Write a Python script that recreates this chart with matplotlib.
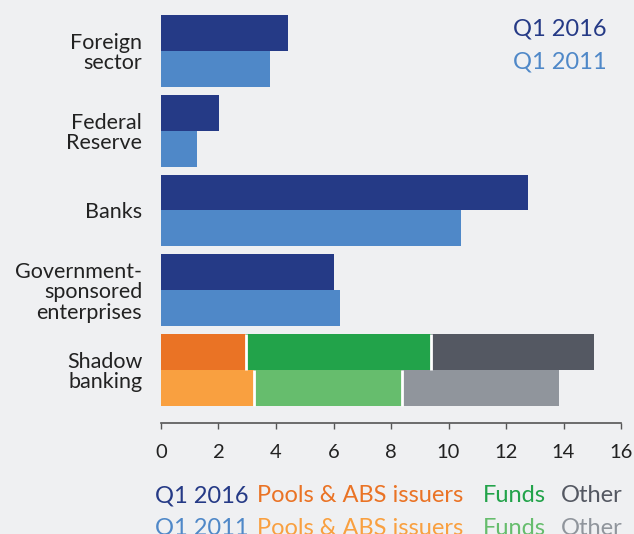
import matplotlib
matplotlib.use("Agg")
import matplotlib.pyplot as plt
import numpy as np

plt.rcParams['font.family'] = ['Lato', 'DejaVu Sans']

categories = ["Foreign\nsector", "Federal\nReserve", "Banks",
              "Government-\nsponsored\nenterprises", "Shadow\nbanking"]
q1_2016 = [4.41, 2.01, 12.78, 6.01]
q1_2011 = [3.79, 1.25, 10.42, 6.22]
shadow_2016 = [2.95, 6.45, 5.67]   # Pools & ABS issuers, Funds, Other
shadow_2011 = [3.24, 5.13, 5.48]
xticks = [0, 2, 4, 6, 8, 10, 12, 14, 16]

BG = "#eff0f2"
C16 = "#253a86"
C11 = "#4f88c8"
SH16 = ["#ea7325", "#22a34a", "#545862"]
SH11 = ["#f9a040", "#66bd6d", "#90959c"]

W, H = 634, 534
fig = plt.figure(figsize=(W / 100, H / 100), dpi=100, facecolor=BG)
ax = fig.add_axes([161 / W, (H - 423) / H, (621 - 161) / W, 413 / H])
ax.set_facecolor(BG)

bh = 0.45
y = np.arange(len(categories))
for i in range(4):
    ax.barh(y[i] - bh / 2, q1_2016[i], height=bh, color=C16, linewidth=0)
    ax.barh(y[i] + bh / 2, q1_2011[i], height=bh, color=C11, linewidth=0)

for vals, cols, yc in [(shadow_2016, SH16, y[4] - bh / 2), (shadow_2011, SH11, y[4] + bh / 2)]:
    left = 0
    for k, (v, c) in enumerate(zip(vals, cols)):
        ax.barh(yc, v, left=left, height=bh, color=c, linewidth=0)
        left += v
        if k < len(vals) - 1:
            ax.vlines(left, yc - bh / 2, yc + bh / 2, color="white", linewidth=2)

ax.set_ylim(4.665, -0.514)
ax.set_xlim(0, 16)
ax.set_xticks(xticks)
ax.set_xticklabels([str(t) for t in xticks], fontsize=14.5, color="#222222")
ax.tick_params(axis='x', direction='out', length=4, width=1, color="#555555", pad=11)
ax.set_yticks(y)
ax.set_yticklabels(categories, fontsize=15.5, color="#222222", linespacing=1.03)
ax.tick_params(axis='y', length=0, pad=13.5)
for s in ['top', 'right', 'left']:
    ax.spines[s].set_visible(False)
ax.spines['bottom'].set_color("#555555")
ax.spines['bottom'].set_linewidth(1.2)

def ftext(px, py, s, color, **kw):
    fig.text(px / W, 1 - py / H, s, color=color, fontsize=17, **kw)

# top-right legend
ftext(607, 29, "Q1 2016", C16, ha='right', va='center')
ftext(607, 62, "Q1 2011", C11, ha='right', va='center')

# bottom legend
row1 = 502
row2 = 535
xs = [155, 257, 483, 561]
labels1 = ["Q1 2016", "Pools & ABS issuers", "Funds", "Other"]
labels2 = ["Q1 2011", "Pools & ABS issuers", "Funds", "Other"]
cols1 = [C16, SH16[0], SH16[1], SH16[2]]
cols2 = [C11, SH11[0], SH11[1], SH11[2]]
for xp, l1, l2, c1, c2 in zip(xs, labels1, labels2, cols1, cols2):
    ftext(xp, row1, l1, c1, ha='left', va='baseline')
    ftext(xp, row2, l2, c2, ha='left', va='baseline')

fig.savefig("out.png", dpi=100, facecolor=BG)
